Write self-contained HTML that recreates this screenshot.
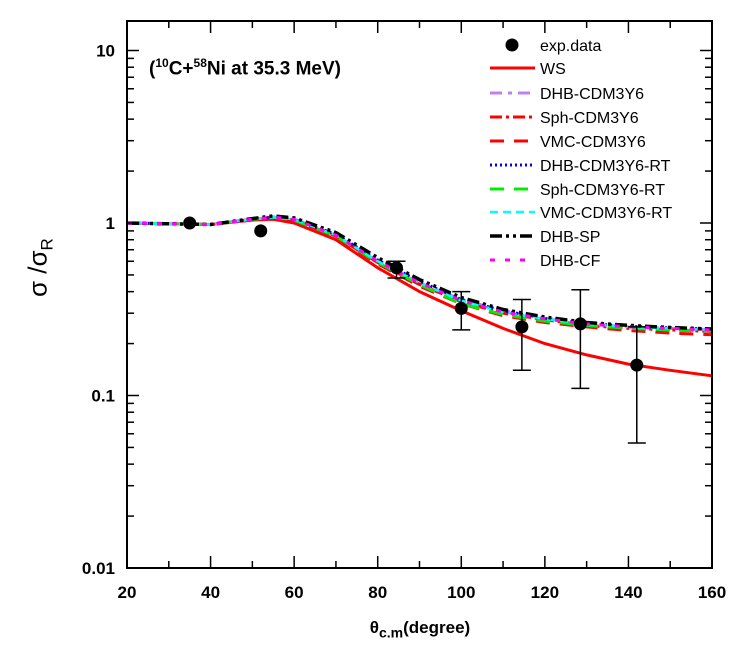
<!DOCTYPE html>
<html><head><meta charset="utf-8"><style>
body{margin:0;background:#fff}
svg{display:block;font-family:"Liberation Sans",Arial,sans-serif}
</style></head><body>
<svg id="chart" width="737" height="653"></svg>
<script>
const xs=[20,30,40,50,55,60,70,80,90,100,110,120,130,140,150,160];
const wsVals=[1,0.99,0.98,1.04,1.05,1.0,0.8,0.55,0.4,0.31,0.245,0.2,0.172,0.152,0.14,0.13];
const dhbVals=[1,0.99,0.98,1.05,1.08,1.05,0.85,0.6,0.45,0.36,0.31,0.28,0.26,0.25,0.245,0.24];
const sphVals=[1,0.99,0.98,1.05,1.08,1.04,0.84,0.59,0.44,0.35,0.3,0.275,0.255,0.245,0.24,0.235];
const vmcVals=[1,0.99,0.98,1.05,1.08,1.04,0.83,0.58,0.43,0.34,0.29,0.265,0.25,0.238,0.23,0.225];
const dhbRtVals=[1,0.99,0.98,1.05,1.08,1.05,0.86,0.61,0.46,0.36,0.31,0.28,0.262,0.252,0.247,0.243];
const sphRtVals=[1,0.99,0.98,1.05,1.08,1.04,0.84,0.59,0.44,0.34,0.295,0.27,0.255,0.245,0.24,0.237];
const vmcRtVals=[1,0.99,0.98,1.05,1.08,1.05,0.85,0.6,0.45,0.355,0.305,0.278,0.26,0.25,0.245,0.24];
const spVals=[1,0.99,0.98,1.06,1.1,1.07,0.88,0.63,0.47,0.37,0.315,0.285,0.265,0.255,0.248,0.243];
const cfVals=[1,0.99,0.98,1.05,1.08,1.05,0.85,0.6,0.45,0.355,0.305,0.278,0.26,0.25,0.245,0.24];
const expX=[35,52,84.5,100,114.5,128.5,142];
const expY=[1.0,0.9,0.55,0.32,0.25,0.26,0.15];
const expLo=[null,null,0.48,0.24,0.14,0.11,0.053];
const expHi=[null,null,0.6,0.4,0.36,0.41,0.25];
const xTicks=[20,40,60,80,100,120,140,160];
const yTicks=[0.01,0.1,1,10];
const yLabels=["0.01","0.1","1","10"];

const NS="http://www.w3.org/2000/svg";
const svg=document.getElementById('chart');
const L=127,R=712,T=21,B=568,DEC=172.5;
const X=v=>L+(v-20)/140*(R-L);
const Y=v=>B-(Math.log10(v)+2)*DEC;
function el(t,a,p){const e=document.createElementNS(NS,t);for(const k in a)e.setAttribute(k,a[k]);(p||svg).appendChild(e);return e;}

const series=[
 {n:"WS",v:wsVals,c:"#f00",d:"",w:3},
 {n:"DHB-CDM3Y6",v:dhbVals,c:"#c080f0",d:"12 6 4 6",w:3},
 {n:"Sph-CDM3Y6",v:sphVals,c:"#f00",d:"12 4 3 4",w:3},
 {n:"VMC-CDM3Y6",v:vmcVals,c:"#f00",d:"14 10",w:3},
 {n:"DHB-CDM3Y6-RT",v:dhbRtVals,c:"#00f",d:"2 3",w:3},
 {n:"Sph-CDM3Y6-RT",v:sphRtVals,c:"#0e0",d:"14 10",w:3},
 {n:"VMC-CDM3Y6-RT",v:vmcRtVals,c:"#0ff",d:"8 5",w:2.5},
 {n:"DHB-SP",v:spVals,c:"#000",d:"12 4 3 4 3 4",w:3.5},
 {n:"DHB-CF",v:cfVals,c:"#f0f",d:"5 10",w:3}
];
const cg=el('g',{});


series.forEach(s=>{
 let d=xs.map((x,i)=>(i?'L':'M')+X(x).toFixed(1)+','+Y(s.v[i]).toFixed(1)).join('');
 const p=el('path',{d:d,fill:'none',stroke:s.c,'stroke-width':s.w,'stroke-dasharray':s.d,'stroke-linejoin':'round'},cg);
 
 
});
const eg=el('g',{});


expX.forEach((x,i)=>{
 if(expLo[i]!=null){
  const cx=X(x),y1=Y(expLo[i]),y2=Y(expHi[i]);
  el('path',{d:`M${cx},${y1}L${cx},${y2}M${cx-9},${y1}L${cx+9},${y1}M${cx-9},${y2}L${cx+9},${y2}`,stroke:'#000','stroke-width':1.5,fill:'none'},eg);
 }
 const c=el('circle',{cx:X(x),cy:Y(expY[i]),r:6.5,fill:'#000'},eg);
 
 
});
const fr=el('rect',{x:L,y:T,width:R-L,height:B-T,fill:'none',stroke:'#000','stroke-width':2});


for(let v=20;v<=160;v+=10){
 const big=v%20===0,len=big?12:7;
 el('line',{x1:X(v),x2:X(v),y1:B,y2:B-len,stroke:'#000','stroke-width':1.5});
 el('line',{x1:X(v),x2:X(v),y1:T,y2:T+len,stroke:'#000','stroke-width':1.5});
}
xTicks.forEach(v=>{const t=el('text',{x:X(v),y:B+30,'text-anchor':'middle','font-size':17,'font-weight':'bold'});t.textContent=v;
 });
for(let e=-2;e<2;e++){for(let m=1;m<10;m++){const v=m*Math.pow(10,e);const y=Y(v);if(y<T+1)continue;const len=m===1?12:7;
 el('line',{x1:L,x2:L+len,y1:y,y2:y,stroke:'#000','stroke-width':1.5});
 el('line',{x1:R,x2:R-len,y1:y,y2:y,stroke:'#000','stroke-width':1.5});}}
yTicks.forEach((v,i)=>{const t=el('text',{x:L-12,y:Y(v)+6,'text-anchor':'end','font-size':17,'font-weight':'bold'});t.textContent=yLabels[i];
 });
const lg=el('g',{});


const rows=[45,68,93,117,141,165,189,212,236,260];
el('circle',{cx:512,cy:rows[0],r:6.5,fill:'#000'},lg);
let t0=el('text',{x:540,y:rows[0]+6,'font-size':16},lg);t0.textContent='exp.data';
series.forEach((s,i)=>{const y=rows[i+1];
 el('line',{x1:490,x2:535,y1:y,y2:y,stroke:s.c,'stroke-width':s.w,'stroke-dasharray':s.d},lg);
 const t=el('text',{x:540,y:y+6,'font-size':16},lg);t.textContent=s.n;
 });
</script>
<div style="position:absolute;left:0;top:0;width:737px;height:653px;pointer-events:none">
<div style="position:absolute;left:149px;top:56px;font:bold 19px 'Liberation Sans',sans-serif;white-space:nowrap">(<sup style="font-size:12px">10</sup>C+<sup style="font-size:12px">58</sup>Ni at 35.3 MeV)</div>
<div style="position:absolute;left:-10px;top:250px;width:100px;text-align:center;transform:rotate(-90deg);font:26px 'Liberation Sans',sans-serif;white-space:nowrap">σ /σ<sub style="font-size:17px">R</sub></div>
<div style="position:absolute;left:330px;top:618px;width:180px;text-align:center;font:bold 17px 'Liberation Sans',sans-serif;white-space:nowrap">θ<sub style="font-size:14px">c.m</sub>(degree)</div>
</div>
</body></html>
